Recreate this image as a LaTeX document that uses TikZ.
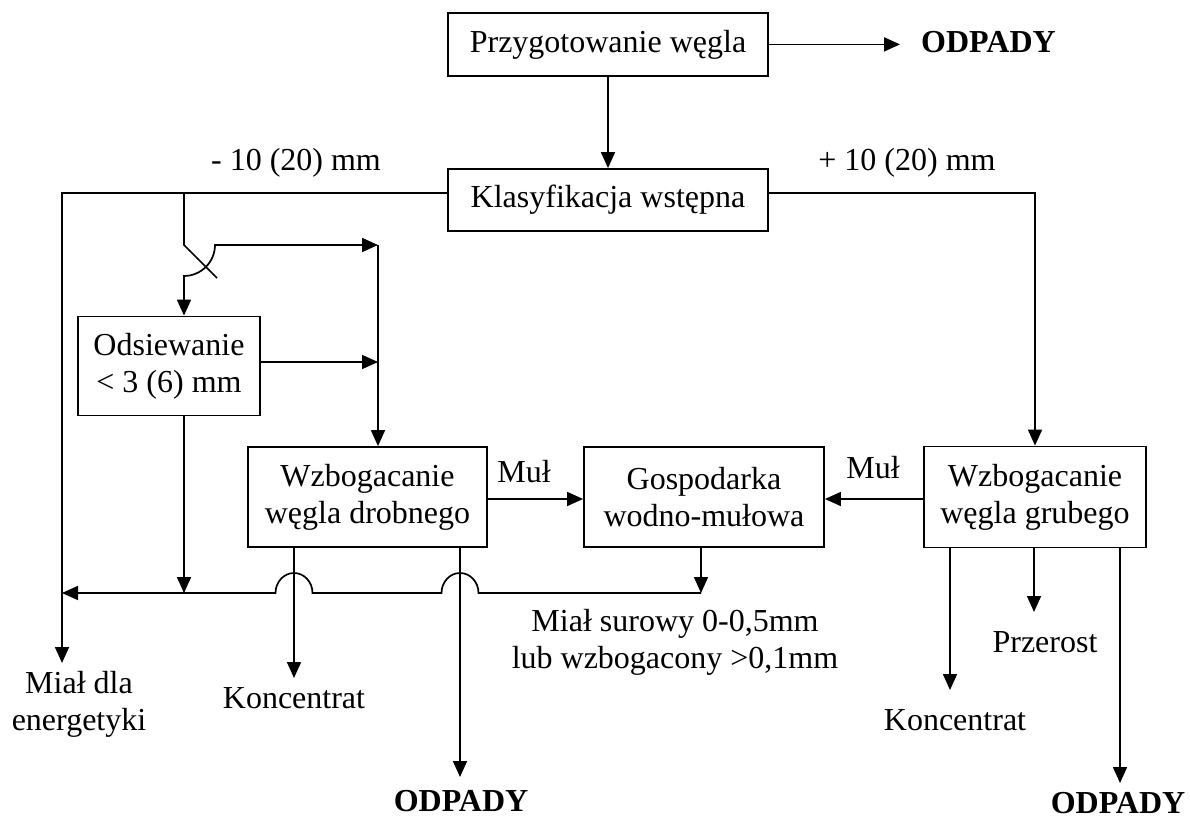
\documentclass[tikz,border=0pt]{standalone}
\usepackage{fontspec}
\setmainfont{Liberation Serif}
\usetikzlibrary{arrows.meta,calc}
\begin{document}
\begin{tikzpicture}[x=1pt,y=-1pt,
  >={Triangle[length=16pt,width=14pt]},
  every node/.style={font=\fontsize{32}{37}\selectfont, inner sep=0pt},
  box/.style={draw, line width=1.8pt, align=center},
  lbl/.style={align=center},
  bold/.style={font=\fontsize{32}{37}\selectfont\bfseries},
  flow/.style={line width=1.7pt, ->},
  wire/.style={line width=1.7pt},
]
\useasboundingbox (0,0) rectangle (1190,818);

% boxes
\node[box, minimum width=320pt, minimum height=63pt] (prz) at (608,44.4) {Przygotowanie węgla};
\node[box, minimum width=320pt, minimum height=62pt] (kla) at (608,200) {Klasyfikacja wstępna};
\node[box, minimum width=182pt, minimum height=99pt] (ods) at (169,366) {Odsiewanie\\< 3 (6) mm};
\node[box, minimum width=239pt, minimum height=100pt] (wd) at (367.5,497) {Wzbogacanie\\węgla drobnego};
\node[box, minimum width=240pt, minimum height=100pt] (gos) at (704,497) {Gospodarka\\wodno-mułowa};
\node[box, minimum width=222pt, minimum height=101pt] (wg) at (1035,497) {Wzbogacanie\\węgla grubego};

% labels
\node[bold, anchor=base west, inner xsep=21pt] (odp1) at (900,53) {ODPADY};
\node[anchor=base] (m10) at (296,171) {- 10 (20) mm};
\node[anchor=base] (p10) at (907,171) {+ 10 (20) mm};
\node[anchor=base] (mul1) at (524,482) {Muł};
\node[anchor=base] (mul2) at (873,478) {Muł};
\node[lbl] (mde) at (79,704) {Miał dla\\energetyki};
\node[anchor=base] (kon1) at (294,708) {Koncentrat};
\node[bold, anchor=base] (odp2) at (461,811) {ODPADY};
\node[lbl] (msur) at (675,642.5) {Miał surowy 0-0,5mm\\lub wzbogacony >0,1mm};
\node[anchor=base] (prze) at (1045,652) {Przerost};
\node[anchor=base] (kon2) at (955,730) {Koncentrat};
\node[bold, anchor=base] (odp3) at (1118,813) {ODPADY};

% coordinates
\coordinate (kW) at (kla.west |- 0,193);
\coordinate (kE) at (kla.east |- 0,193);
\coordinate (tMial) at (62,663);
\coordinate (sw0) at (184,193);
\coordinate (sw1) at (184,245);
\coordinate (j1) at (378,245);
\coordinate (oE) at ([yshift=4pt]ods.east);
\coordinate (bus) at (701,593);
\coordinate (mA) at ([yshift=-2pt]wd.east);
\coordinate (mB) at ([yshift=-2pt]wg.west);
\coordinate (tKon1) at (294,678);
\coordinate (tOdp2) at (460,777);
\coordinate (tKon2) at (950,690);
\coordinate (tPrz) at (1034,612);
\coordinate (tOdp3) at (1120,783);

% connectors
\draw[flow] (prz.east) -- (prz.east -| odp1.west);
\draw[flow] (prz.south) -- (kla.north);
\draw[flow] (kW) -| (tMial);
\draw[flow] (kE) -| (wg.north);

% switch
\draw[wire] (sw0) -- (sw1) -- ++(33,33);
\draw[wire, <->] (j1) -- (215,245) .. controls (215,262) and (201,276) .. (184,276) -- (ods.north -| sw1);
\draw[flow] (j1) -- (j1 |- wd.north);
\draw[flow] (oE) -- (oE -| j1);

% collecting line
\draw[flow] (gos.south -| bus) -- (bus);
\draw[flow] (ods.south -| sw1) -- (sw1 |- bus);
\draw[flow] (bus) -- (478.5,593)
  .. controls (478.5,582) and (470.2,573) .. (460,573)
  .. controls (449.8,573) and (441.5,582) .. (441.5,593)
  -- (312.5,593)
  .. controls (312.5,582) and (304.2,573) .. (294,573)
  .. controls (283.8,573) and (275.5,582) .. (275.5,593)
  -- (tMial |- bus);

% outputs of fine coal
\draw[flow] (wd.south -| tKon1) -- (tKon1);
\draw[flow] (wd.south -| tOdp2) -- (tOdp2);

% slurry
\draw[flow] (mA) -- (mA -| gos.west);
\draw[flow] (mB) -- (mB -| gos.east);

% outputs of coarse coal
\draw[flow] (wg.south -| tKon2) -- (tKon2);
\draw[flow] (wg.south -| tPrz) -- (tPrz);
\draw[flow] (wg.south -| tOdp3) -- (tOdp3);
\end{tikzpicture}
\end{document}
